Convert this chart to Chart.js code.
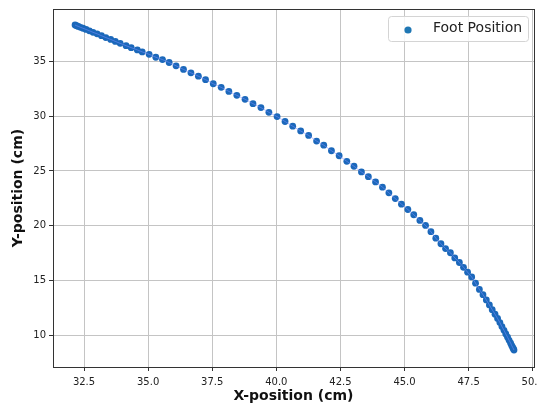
<!DOCTYPE html>
<html>
<head>
<meta charset="utf-8">
<script src="https://cdn.jsdelivr.net/npm/chart.js@4.4.0/dist/chart.umd.min.js"></script>
<style>
  html, body { margin: 0; padding: 0; background: #fff; overflow: hidden; }
  #wrap { width: 560px; height: 403px; position: relative; }
</style>
</head>
<body>
<div id="wrap"><canvas id="chart"></canvas></div>
<script>
// foot trajectory
const footX = [
  32.15, 32.21, 32.28, 32.36, 32.46, 32.58, 32.71, 32.85, 33.01, 33.18,
  33.35, 33.54, 33.72, 33.91, 34.14, 34.34, 34.58, 34.77, 35.04, 35.30,
  35.56, 35.82, 36.09, 36.38, 36.67, 36.96, 37.24, 37.54, 37.85, 38.15,
  38.46, 38.78, 39.09, 39.40, 39.71, 40.03, 40.34, 40.64, 40.95, 41.26,
  41.57, 41.85, 42.15, 42.45, 42.75, 43.03, 43.32, 43.59, 43.87, 44.14,
  44.39, 44.64, 44.88, 45.13, 45.36, 45.60, 45.82, 46.03, 46.22, 46.42,
  46.60, 46.79, 46.96, 47.14, 47.30, 47.46, 47.62, 47.77, 47.92, 48.06,
  48.19, 48.31, 48.42, 48.53, 48.63, 48.72, 48.80, 48.88, 48.95, 49.02,
  49.08, 49.14, 49.18, 49.22, 49.25, 49.27
];
const footY = [
  38.34, 38.27, 38.21, 38.13, 38.04, 37.93, 37.81, 37.67, 37.53, 37.36,
  37.19, 37.02, 36.84, 36.66, 36.45, 36.27, 36.06, 35.88, 35.66, 35.39,
  35.18, 34.91, 34.61, 34.28, 33.97, 33.66, 33.34, 32.97, 32.64, 32.27,
  31.91, 31.55, 31.15, 30.79, 30.36, 29.97, 29.52, 29.09, 28.66, 28.25,
  27.73, 27.36, 26.85, 26.39, 25.88, 25.43, 24.91, 24.48, 24.00, 23.52,
  23.00, 22.48, 21.97, 21.48, 21.00, 20.48, 20.03, 19.45, 18.86, 18.35,
  17.91, 17.53, 17.06, 16.64, 16.20, 15.75, 15.32, 14.75, 14.18, 13.70,
  13.22, 12.76, 12.33, 11.91, 11.52, 11.15, 10.78, 10.44, 10.11, 9.81,
  9.53, 9.27, 9.05, 8.87, 8.74, 8.64
];
const xTicks = [32.5, 35.0, 37.5, 40.0, 42.5, 45.0, 47.5, 50.0];
const yTicks = [10, 15, 20, 25, 30, 35];

const points = footX.map((x, i) => ({ x: x, y: footY[i] }));
const FONT = "'DejaVu Sans', sans-serif";
const dotColor = '#1b68ba';

// matplotlib-like frame on all four sides
const framePlugin = {
  id: 'frame',
  afterDatasetsDraw(chart) {
    const a = chart.chartArea, ctx = chart.ctx;
    ctx.save();
    ctx.strokeStyle = '#333';
    ctx.lineWidth = 1;
    ctx.strokeRect(Math.round(a.left) + 0.5, Math.round(a.top) + 0.5,
                   Math.round(a.right - a.left), Math.round(a.bottom - a.top));
    ctx.restore();
  }
};

// legend box in the upper right corner of the plot
const legendPlugin = {
  id: 'boxLegend',
  afterDraw(chart) {
    const ctx = chart.ctx, a = chart.chartArea;
    const ds = chart.data.datasets[0];
    const w = 140, h = 25;
    const x0 = a.right - 6 - w, y0 = a.top + 7;
    ctx.save();
    ctx.beginPath();
    ctx.roundRect(x0 + 0.5, y0 + 0.5, w, h, 3);
    ctx.fillStyle = 'rgba(255,255,255,0.85)';
    ctx.fill();
    ctx.strokeStyle = '#d4d4d4';
    ctx.lineWidth = 1;
    ctx.stroke();
    ctx.beginPath();
    ctx.arc(x0 + 20, y0 + 14, 3.6, 0, Math.PI * 2);
    ctx.fillStyle = '#1f77b4';
    ctx.fill();
    ctx.fillStyle = '#222';
    ctx.font = '14px ' + FONT;
    ctx.textBaseline = 'middle';
    ctx.textAlign = 'left';
    ctx.fillText(ds.label, x0 + 45, y0 + 12.5);
    ctx.restore();
  }
};

new Chart(document.getElementById('chart').getContext('2d'), {
  type: 'scatter',
  data: {
    datasets: [{
      label: 'Foot Position',
      data: points,
      backgroundColor: dotColor,
      borderColor: dotColor,
      borderWidth: 0,
      pointRadius: 3.4,
      order: 1
    }, {
      label: 'path',
      data: points,
      showLine: true,
      pointRadius: 0,
      borderColor: 'rgba(120,140,255,0.55)',
      borderWidth: 1,
      order: 0
    }]
  },
  options: {
    responsive: true,
    maintainAspectRatio: false,
    animation: false,
    layout: { padding: { left: 10, top: 7, right: 26, bottom: 0 } },
    plugins: {
      legend: { display: false },
      tooltip: { enabled: false }
    },
    scales: {
      x: {
        type: 'linear',
        min: 31.29,
        max: 50.05,
        afterBuildTicks: s => { s.ticks = xTicks.map(v => ({ value: v })); },
        afterFit: s => { s.height = 36; },
        ticks: {
          callback: v => v.toFixed(1),
          color: '#222',
          font: { family: FONT, size: 10 },
          padding: 5,
          maxRotation: 0
        },
        grid: { color: '#c4c4c4', tickColor: '#333', tickLength: 4, lineWidth: 1 },
        border: { color: '#333' },
        title: {
          display: true,
          text: 'X-position (cm)',
          color: '#111',
          font: { family: FONT, size: 14, weight: 'bold' },
          padding: { top: 0, bottom: -2 }
        }
      },
      y: {
        type: 'linear',
        min: 7.09,
        max: 39.8,
        afterBuildTicks: s => { s.ticks = yTicks.map(v => ({ value: v })); },
        afterFit: s => { s.width = 43; },
        ticks: {
          color: '#222',
          font: { family: FONT, size: 10 },
          padding: 3
        },
        grid: { color: '#c4c4c4', tickColor: '#333', tickLength: 4, lineWidth: 1 },
        border: { color: '#333' },
        title: {
          display: true,
          text: 'Y-position (cm)',
          color: '#111',
          font: { family: FONT, size: 14, weight: 'bold' },
          padding: { top: 0, bottom: 4 }
        }
      }
    }
  },
  plugins: [framePlugin, legendPlugin]
});
</script>
</body>
</html>
